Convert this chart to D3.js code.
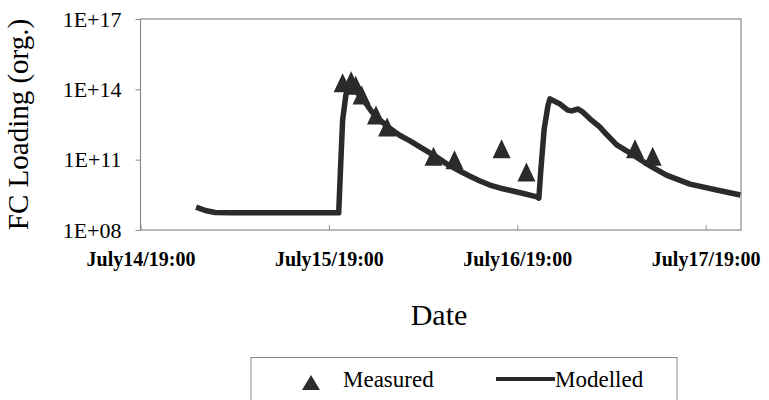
<!DOCTYPE html>
<html>
<head>
<meta charset="utf-8">
<script src="https://cdn.jsdelivr.net/npm/d3@7"></script>
<style>
  body { margin: 0; background: #fff; }
  svg { display: block; }
  svg text { font-family: "Liberation Serif", "Times New Roman", serif; fill: #000; }
</style>
</head>
<body>
<div id="chart"></div>
<script>
// measured FC loading (triangles)
const measuredTimes = [
  '07-15 20:45', '07-15 21:50', '07-15 22:25', '07-15 23:10', '07-16 01:00', '07-16 02:25',
  '07-16 08:20', '07-16 11:00', '07-16 17:00', '07-16 20:10', '07-17 10:00', '07-17 12:15'
];
const measuredValues = [
  1.9e14, 2.3e14, 1.5e14, 5.8e13, 8.1e12, 2.5e12,
  1.4e11, 9.8e10, 2.9e11, 3.0e10, 2.9e11, 1.4e11
];

// modelled FC loading (line)
const modelledTimes = [
  '07-15 02:05', '07-15 03:15', '07-15 04:30', '07-15 06:25', '07-15 20:15', '07-15 20:30',
  '07-15 20:45', '07-15 21:10', '07-15 21:25', '07-15 21:40', '07-15 22:40', '07-15 23:35',
  '07-16 00:30', '07-16 01:30', '07-16 02:45', '07-16 04:00', '07-16 05:20', '07-16 06:35',
  '07-16 08:30', '07-16 10:00', '07-16 11:40', '07-16 12:55', '07-16 14:15', '07-16 15:30',
  '07-16 16:45', '07-16 18:25', '07-16 19:55', '07-16 21:30', '07-16 21:45', '07-16 22:00',
  '07-16 22:25', '07-16 22:55', '07-16 23:10', '07-17 00:25', '07-17 01:25', '07-17 01:55',
  '07-17 02:45', '07-17 03:20', '07-17 04:15', '07-17 05:30', '07-17 06:10', '07-17 07:40',
  '07-17 09:45', '07-17 11:55', '07-17 14:00', '07-17 17:00', '07-17 20:25', '07-17 23:25'
];
const modelledValues = [
  9.5e8, 6.8e8, 5.6e8, 5.4e8, 5.4e8, 5.9e10,
  4.9e12, 5.8e13, 1.15e14, 1.26e14, 6.9e13, 2.9e13,
  1.07e13, 4.9e12, 2.2e12, 1.1e12, 6.3e11, 3.5e11,
  1.45e11, 6.6e10, 3.3e10, 2.0e10, 1.23e10, 8.3e9,
  6.2e9, 4.6e9, 3.5e9, 2.6e9, 2.3e9, 3.6e10,
  1.9e12, 2.1e13, 3.9e13, 2.4e13, 1.3e13, 1.2e13,
  1.45e13, 1.07e13, 5.5e12, 2.5e12, 1.4e12, 4.3e11,
  1.6e11, 5.4e10, 2.2e10, 9.1e9, 5.1e9, 3.1e9
];

const xTicks = ['07-14 19:00', '07-15 19:00', '07-16 19:00', '07-17 19:00'];
const xDomain = ['07-14 19:00', '07-17 23:30'];
const yTicks = [1e8, 1e11, 1e14, 1e17];

const parseTime = d3.utcParse('%m-%d %H:%M');

const width = 769;
const height = 400;
const margin = { top: 19, right: 28, bottom: 170, left: 140.5 };
const ink = '#2b2b2b';
const frame = '#8a8a8a';

const svg = d3.select('#chart')
  .append('svg')
  .attr('width', width)
  .attr('height', height);

const xScale = d3.scaleUtc()
  .domain(xDomain.map(parseTime))
  .range([margin.left, width - margin.right]);

const yScale = d3.scaleLog()
  .domain([1e8, 1e17])
  .range([height - margin.bottom, margin.top]);

// plot frame
svg.append('rect')
  .attr('x', margin.left)
  .attr('y', margin.top)
  .attr('width', width - margin.right - margin.left)
  .attr('height', height - margin.bottom - margin.top)
  .attr('fill', 'none')
  .attr('stroke', frame)
  .attr('stroke-width', 1.2);

const formatExp = (d) => '1E+' + String(Math.round(Math.log10(d))).padStart(2, '0');

const yAxis = svg.append('g')
  .attr('transform', `translate(${margin.left},0)`)
  .call(d3.axisLeft(yScale).tickValues(yTicks).tickFormat(formatExp).tickSize(5).tickPadding(14))
  .attr('font-family', null)
  .attr('font-size', null);
yAxis.select('.domain').remove();
yAxis.selectAll('line').attr('stroke', frame);
yAxis.selectAll('text').style('font-size', '22px');

const xAxis = svg.append('g')
  .attr('transform', `translate(0,${height - margin.bottom})`)
  .call(d3.axisBottom(xScale)
    .tickValues(xTicks.map(parseTime))
    .tickFormat(d3.utcFormat('July%-d/%H:%M'))
    .tickSizeInner(-5)
    .tickSizeOuter(0)
    .tickPadding(22))
  .attr('font-family', null)
  .attr('font-size', null);
xAxis.select('.domain').remove();
xAxis.selectAll('line').attr('stroke', frame);
xAxis.selectAll('text')
  .style('font-weight', 'bold')
  .style('font-size', '20px');

// axis titles
svg.append('text')
  .attr('transform', `translate(28,${(margin.top + height - margin.bottom) / 2}) rotate(-90)`)
  .attr('text-anchor', 'middle')
  .style('font-size', '29px')
  .text('FC Loading (org.)');

svg.append('text')
  .attr('x', 439)
  .attr('y', 325)
  .attr('text-anchor', 'middle')
  .style('font-size', '30px')
  .text('Date');

// modelled line
const modelled = modelledTimes.map((t, i) => ({ date: parseTime(t), value: modelledValues[i] }));
const line = d3.line()
  .x((d) => xScale(d.date))
  .y((d) => yScale(d.value))
  .curve(d3.curveLinear);

svg.append('path')
  .datum(modelled)
  .attr('d', line)
  .attr('fill', 'none')
  .attr('stroke', ink)
  .attr('stroke-width', 5.5)
  .attr('stroke-linejoin', 'round')
  .attr('stroke-linecap', 'butt');

// measured triangles
const measured = measuredTimes.map((t, i) => ({ date: parseTime(t), value: measuredValues[i] }));
const tri = (w, h) => `M0,${-h / 2}L${w / 2},${h / 2}L${-w / 2},${h / 2}Z`;

svg.append('g')
  .selectAll('path')
  .data(measured)
  .join('path')
  .attr('transform', (d) => `translate(${xScale(d.date)},${yScale(d.value)})`)
  .attr('d', tri(18, 19))
  .attr('fill', ink);

// legend
const legend = svg.append('g');
legend.append('rect')
  .attr('x', 251)
  .attr('y', 357.5)
  .attr('width', 426)
  .attr('height', 80)
  .attr('fill', 'none')
  .attr('stroke', frame)
  .attr('stroke-width', 1);

legend.append('path')
  .attr('transform', 'translate(311,382.5)')
  .attr('d', tri(18, 15))
  .attr('fill', ink);

legend.append('text')
  .attr('x', 343)
  .attr('y', 387)
  .style('font-size', '23px')
  .text('Measured');

legend.append('line')
  .attr('x1', 496)
  .attr('x2', 555)
  .attr('y1', 379)
  .attr('y2', 379)
  .attr('stroke', ink)
  .attr('stroke-width', 4);

legend.append('text')
  .attr('x', 555)
  .attr('y', 387)
  .style('font-size', '23px')
  .text('Modelled');
</script>
</body>
</html>
